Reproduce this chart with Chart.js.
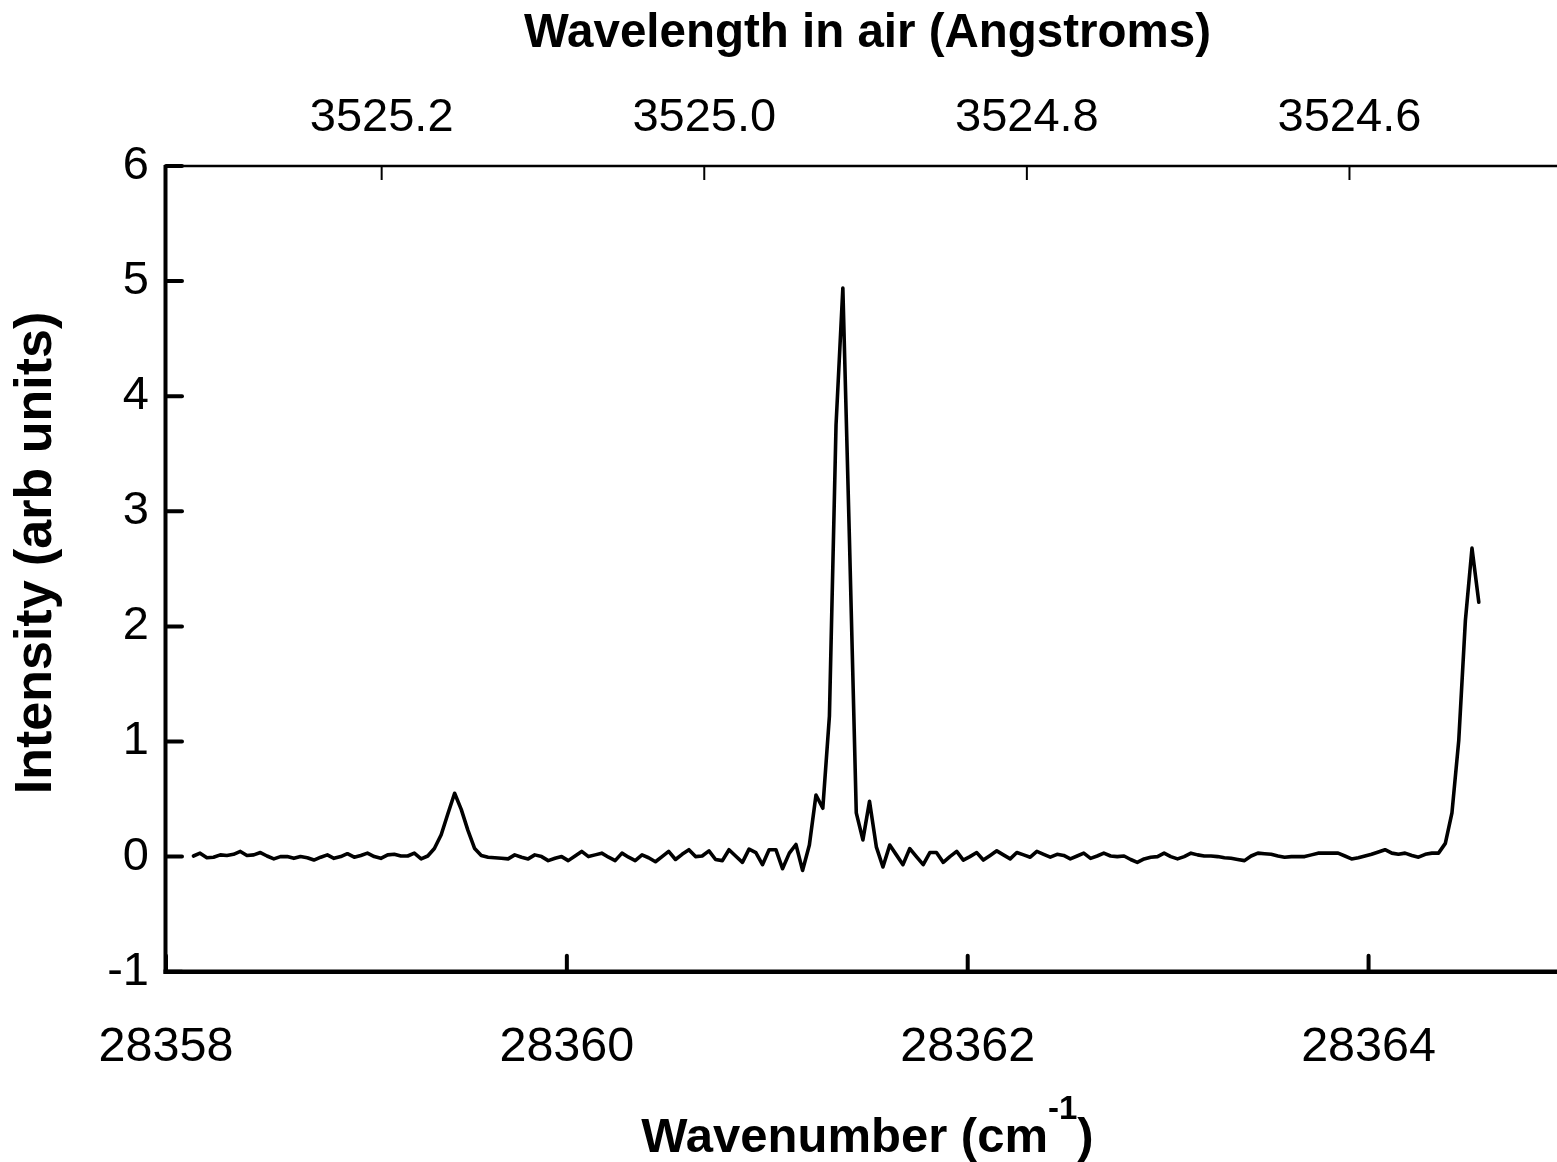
<!DOCTYPE html>
<html>
<head>
<meta charset="utf-8">
<script src="https://cdn.jsdelivr.net/npm/chart.js@4/dist/chart.umd.min.js"></script>
<style>
  html, body { margin: 0; padding: 0; background: #fff; overflow: hidden; }
  #wrap { position: absolute; left: 0; top: 0; width: 1575px; height: 1162px; }
</style>
</head>
<body>
<div id="wrap"><canvas id="c" width="1575" height="1162"></canvas></div>
<script>
// ---------------- DATA ----------------
const wavenumbers = [
  28358.137, 28358.170, 28358.204, 28358.237, 28358.271, 28358.304, 28358.337, 28358.371, 28358.404, 28358.438,
  28358.471, 28358.504, 28358.538, 28358.571, 28358.605, 28358.638, 28358.671, 28358.705, 28358.738, 28358.772,
  28358.805, 28358.838, 28358.872, 28358.905, 28358.939, 28358.972, 28359.005, 28359.039, 28359.072, 28359.106,
  28359.139, 28359.172, 28359.206, 28359.239, 28359.273, 28359.306, 28359.339, 28359.373, 28359.406, 28359.440,
  28359.473, 28359.506, 28359.540, 28359.573, 28359.607, 28359.640, 28359.673, 28359.707, 28359.740, 28359.774,
  28359.807, 28359.840, 28359.874, 28359.907, 28359.941, 28359.974, 28360.007, 28360.041, 28360.074, 28360.108,
  28360.141, 28360.174, 28360.208, 28360.241, 28360.275, 28360.308, 28360.341, 28360.375, 28360.408, 28360.442,
  28360.475, 28360.508, 28360.542, 28360.575, 28360.609, 28360.642, 28360.675, 28360.709, 28360.742, 28360.776,
  28360.809, 28360.842, 28360.876, 28360.909, 28360.943, 28360.976, 28361.009, 28361.043, 28361.076, 28361.110,
  28361.143, 28361.176, 28361.210, 28361.243, 28361.277, 28361.310, 28361.343, 28361.377, 28361.410, 28361.444,
  28361.477, 28361.510, 28361.544, 28361.577, 28361.611, 28361.644, 28361.677, 28361.711, 28361.744, 28361.778,
  28361.811, 28361.844, 28361.878, 28361.911, 28361.945, 28361.978, 28362.011, 28362.045, 28362.078, 28362.112,
  28362.145, 28362.178, 28362.212, 28362.245, 28362.279, 28362.312, 28362.345, 28362.379, 28362.412, 28362.446,
  28362.479, 28362.512, 28362.546, 28362.579, 28362.613, 28362.646, 28362.679, 28362.713, 28362.746, 28362.780,
  28362.813, 28362.846, 28362.880, 28362.913, 28362.947, 28362.980, 28363.013, 28363.047, 28363.080, 28363.114,
  28363.147, 28363.180, 28363.214, 28363.247, 28363.281, 28363.314, 28363.347, 28363.381, 28363.414, 28363.448,
  28363.481, 28363.514, 28363.548, 28363.581, 28363.615, 28363.648, 28363.681, 28363.715, 28363.748, 28363.782,
  28363.815, 28363.848, 28363.882, 28363.915, 28363.949, 28363.982, 28364.015, 28364.049, 28364.082, 28364.116,
  28364.149, 28364.182, 28364.216, 28364.249, 28364.283, 28364.316, 28364.349, 28364.383, 28364.416, 28364.450,
  28364.483, 28364.516, 28364.550
];

const intensity = [
  0.005, 0.03, -0.01, -0.005, 0.015, 0.01, 0.02, 0.045, 0.01, 0.015,
  0.035, 0.005, -0.02, 0.0, 0.0, -0.015, 0.0, -0.01, -0.03, -0.005,
  0.015, -0.015, 0.0, 0.025, -0.005, 0.01, 0.03, 0.0, -0.015, 0.015,
  0.02, 0.005, 0.005, 0.03, -0.02, 0.005, 0.07, 0.19, 0.37, 0.55,
  0.41, 0.23, 0.07, 0.01, -0.005, -0.01, -0.015, -0.02, 0.015, -0.005,
  -0.02, 0.015, 0.0, -0.035, -0.015, 0.0, -0.035, 0.005, 0.045, 0.0,
  0.015, 0.03, -0.005, -0.035, 0.03, -0.005, -0.035, 0.015, -0.01, -0.045,
  0.0, 0.045, -0.025, 0.02, 0.06, 0.0, 0.005, 0.05, -0.025, -0.035,
  0.06, 0.005, -0.05, 0.065, 0.035, -0.07, 0.06, 0.06, -0.105, 0.03,
  0.105, -0.12, 0.10, 0.535, 0.42, 1.22, 3.75, 4.94, 2.75, 0.38,
  0.145, 0.48, 0.085, -0.09, 0.10, 0.015, -0.07, 0.07, 0.0, -0.07,
  0.035, 0.035, -0.05, 0.0, 0.045, -0.03, 0.0, 0.035, -0.03, 0.01,
  0.05, 0.015, -0.02, 0.035, 0.015, -0.005, 0.045, 0.02, -0.005, 0.02,
  0.01, -0.02, 0.005, 0.03, -0.015, 0.005, 0.03, 0.005, 0.0, 0.005,
  -0.025, -0.05, -0.02, -0.005, 0.0, 0.03, 0.0, -0.02, 0.0, 0.03,
  0.015, 0.005, 0.005, 0.0, -0.01, -0.015, -0.025, -0.035, 0.005, 0.03,
  0.025, 0.02, 0.005, -0.005, 0.0, 0.0, 0.0, 0.015, 0.03, 0.03,
  0.03, 0.03, 0.005, -0.02, -0.01, 0.005, 0.02, 0.04, 0.06, 0.03,
  0.02, 0.03, 0.01, -0.005, 0.02, 0.03, 0.03, 0.115, 0.38, 1.01,
  2.05, 2.68, 2.21
];

const wavenumberTicks = [28358, 28360, 28362, 28364];
const wavelengthTicks = [3525.2, 3525.0, 3524.8, 3524.6];
const intensityTicks = [-1, 0, 1, 2, 3, 4, 5, 6];

const wavenumberRange = [28358, 28365];
const wavelengthRange = [3524.4639, 3525.3337];
const intensityRange = [-1, 6];

const topTitle = 'Wavelength in air (Angstroms)';
const leftTitle = 'Intensity (arb units)';
const bottomTitleMain = 'Wavenumber (cm';
const bottomTitleSup = '-1';
const bottomTitleEnd = ')';

// ---------------- CHART ----------------
const FONT = '"Liberation Sans", Arial, Helvetica, sans-serif';
const PLOT_TOP = 166, PLOT_LEFT = 166, PLOT_BOTTOM = 971.7, CANVAS_H = 1162;

function line(ctx, x1, y1, x2, y2) {
  ctx.beginPath(); ctx.moveTo(x1, y1); ctx.lineTo(x2, y2); ctx.stroke();
}

const framePlugin = {
  id: 'frame',
  afterDraw(chart) {
    const { ctx, chartArea: a, scales } = chart;
    ctx.save();
    ctx.strokeStyle = '#000';
    ctx.lineCap = 'butt';
    // axis lines
    ctx.lineWidth = 4;
    line(ctx, a.left - 0.5, a.top - 1, a.left - 0.5, a.bottom + 2);
    ctx.lineWidth = 2.5;
    line(ctx, a.left, a.top, a.right, a.top);
    ctx.lineWidth = 4.5;
    line(ctx, a.left - 2.5, a.bottom, a.right, a.bottom);
    // y ticks (inward)
    ctx.lineWidth = 4; ctx.lineCap = 'round';
    scales.y.ticks.forEach(t => {
      const y = scales.y.getPixelForValue(t.value);
      line(ctx, a.left, y, a.left + 16, y);
    });
    // bottom ticks (inward)
    scales.x.ticks.forEach(t => {
      const x = scales.x.getPixelForValue(t.value);
      line(ctx, x, a.bottom, x, a.bottom - 16);
    });
    // top ticks (inward)
    ctx.lineWidth = 2; ctx.lineCap = 'butt';
    scales.x2.ticks.forEach(t => {
      const x = scales.x2.getPixelForValue(t.value);
      line(ctx, x, a.top, x, a.top + 14);
    });
    ctx.fillStyle = '#000';
    // left (rotated) title
    ctx.save();
    ctx.translate(37, 553);
    ctx.rotate(-Math.PI / 2);
    ctx.textAlign = 'center';
    ctx.textBaseline = 'middle';
    ctx.font = 'bold 52px ' + FONT;
    ctx.fillText(leftTitle, 0, 0);
    ctx.restore();
    // bottom title with superscript
    ctx.textAlign = 'left';
    ctx.textBaseline = 'alphabetic';
    ctx.font = 'bold 49px ' + FONT;
    const w1 = ctx.measureText(bottomTitleMain).width;
    const w3 = ctx.measureText(bottomTitleEnd).width;
    ctx.font = 'bold 33px ' + FONT;
    const w2 = ctx.measureText(bottomTitleSup).width;
    const x0 = (a.left + a.right) / 2 - (w1 + w2 + w3) / 2;
    ctx.font = 'bold 49px ' + FONT;
    ctx.fillText(bottomTitleMain, x0, 1152);
    ctx.fillText(bottomTitleEnd, x0 + w1 + w2, 1152);
    ctx.font = 'bold 33px ' + FONT;
    ctx.fillText(bottomTitleSup, x0 + w1, 1119);
    ctx.restore();
  }
};

const tickFont = { family: FONT, size: 47 };
const titleFont = { family: FONT, size: 47.5, weight: 'bold' };

new Chart(document.getElementById('c'), {
  type: 'line',
  data: {
    datasets: [{
      data: wavenumbers.map((x, i) => ({ x: x, y: intensity[i] })),
      borderColor: '#000',
      borderWidth: 3.6,
      pointRadius: 0,
      tension: 0,
      fill: false,
      borderJoinStyle: 'round',
      borderCapStyle: 'round'
    }]
  },
  options: {
    responsive: false,
    animation: false,
    devicePixelRatio: 1,
    layout: { padding: { left: 0, right: 6, top: 0, bottom: 0 } },
    plugins: { legend: { display: false }, tooltip: { enabled: false } },
    scales: {
      x: {
        type: 'linear', position: 'bottom',
        min: wavenumberRange[0], max: wavenumberRange[1],
        grid: { display: false }, border: { display: false },
        afterBuildTicks: s => { s.ticks = wavenumberTicks.map(v => ({ value: v })); },
        afterFit: s => { s.height = CANVAS_H - PLOT_BOTTOM; },
        ticks: { padding: 39, maxRotation: 0, autoSkip: false, color: '#000', font: { family: FONT, size: 48.5 },
                 callback: v => String(v) }
      },
      x2: {
        type: 'linear', position: 'top', reverse: true,
        min: wavelengthRange[0], max: wavelengthRange[1],
        grid: { display: false }, border: { display: false },
        afterBuildTicks: s => { s.ticks = wavelengthTicks.map(v => ({ value: v })); },
        afterFit: s => { s.height = PLOT_TOP; },
        ticks: { padding: 12, maxRotation: 0, autoSkip: false, color: '#000', font: tickFont,
                 callback: v => Number(v).toFixed(1) },
        title: { display: true, text: topTitle, color: '#000', font: titleFont, padding: { top: 5.5, bottom: 0 } }
      },
      y: {
        type: 'linear', position: 'left',
        min: intensityRange[0], max: intensityRange[1],
        grid: { display: false }, border: { display: false },
        afterBuildTicks: s => { s.ticks = intensityTicks.map(v => ({ value: v })); },
        afterFit: s => { s.width = PLOT_LEFT; },
        ticks: { padding: 9, color: '#000', font: tickFont, callback: v => String(v) },
        title: { display: false }
      }
    }
  },
  plugins: [framePlugin]
});
</script>
</body>
</html>
